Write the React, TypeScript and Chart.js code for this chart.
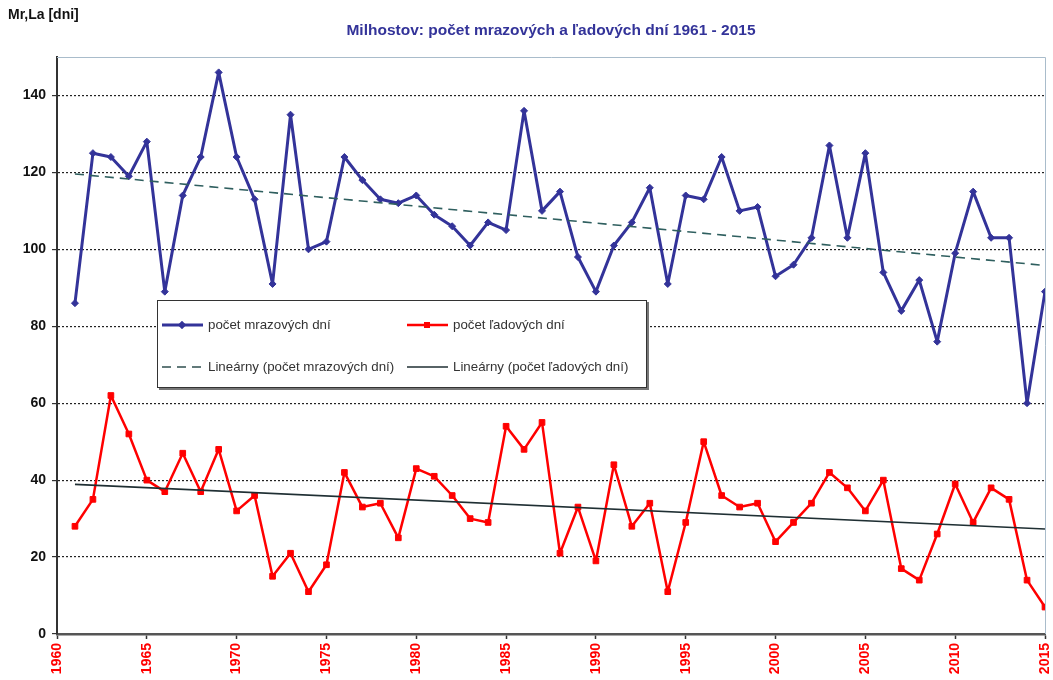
import React, { useEffect, useRef } from 'react';
import { Chart, registerables } from 'chart.js';

Chart.register(...registerables);

const years = [
  1961, 1962, 1963, 1964, 1965, 1966, 1967, 1968, 1969, 1970,
  1971, 1972, 1973, 1974, 1975, 1976, 1977, 1978, 1979, 1980,
  1981, 1982, 1983, 1984, 1985, 1986, 1987, 1988, 1989, 1990,
  1991, 1992, 1993, 1994, 1995, 1996, 1997, 1998, 1999, 2000,
  2001, 2002, 2003, 2004, 2005, 2006, 2007, 2008, 2009, 2010,
  2011, 2012, 2013, 2014, 2015,
];

const frostDays = [
  86, 125, 124, 119, 128, 89, 114, 124, 146, 124,
  113, 91, 135, 100, 102, 124, 118, 113, 112, 114,
  109, 106, 101, 107, 105, 136, 110, 115, 98, 89,
  101, 107, 116, 91, 114, 113, 124, 110, 111, 93,
  96, 103, 127, 103, 125, 94, 84, 92, 76, 99,
  115, 103, 103, 60, 89,
];

const iceDays = [
  28, 35, 62, 52, 40, 37, 47, 37, 48, 32,
  36, 15, 21, 11, 18, 42, 33, 34, 25, 43,
  41, 36, 30, 29, 54, 48, 55, 21, 33, 19,
  44, 28, 34, 11, 29, 50, 36, 33, 34, 24,
  29, 34, 42, 38, 32, 40, 17, 14, 26, 39,
  29, 38, 35, 14, 7,
];

const trendYears = [1961, 2015];
const frostTrend = [119.6, 95.8];
const iceTrend = [38.9, 27.3];

const yTickValues = [0, 20, 40, 60, 80, 100, 120, 140];
const xTickValues = [1960, 1965, 1970, 1975, 1980, 1985, 1990, 1995, 2000, 2005, 2010, 2015];

const titleText = 'Milhostov: počet mrazových a ľadových dní 1961 - 2015';
const yAxisLabel = 'Mr,La [dni]';
const legendLabels = [
  'počet mrazových dní',
  'počet ľadových dní',
  'Lineárny (počet mrazových dní)',
  'Lineárny (počet ľadových dní)',
];

const FONT = '"Liberation Sans", Arial, sans-serif';
const BLUE = '#333399';
const RED = '#ff0000';

const frameBorder = {
  id: 'frameBorder',
  afterDatasetsDraw(chart: any) {
    const { ctx, chartArea } = chart;
    ctx.save();
    ctx.strokeStyle = '#a9bccb';
    ctx.lineWidth = 1;
    ctx.beginPath();
    ctx.moveTo(chartArea.left, chartArea.top + 0.5);
    ctx.lineTo(chartArea.right + 0.5, chartArea.top + 0.5);
    ctx.lineTo(chartArea.right + 0.5, chartArea.bottom);
    ctx.stroke();
    ctx.restore();
  },
};

export default function App() {
  const canvasRef = useRef<HTMLCanvasElement>(null);

  useEffect(() => {
    document.body.style.margin = '0';
    const canvas = canvasRef.current;
    if (!canvas) return;
    const chart = new Chart(canvas, {
      type: 'line',
      data: {
        datasets: [
          {
            label: legendLabels[2],
            data: trendYears.map((x, i) => ({ x, y: frostTrend[i] })),
            borderColor: '#2f5f5f',
            borderWidth: 1.6,
            borderDash: [9, 6],
            pointRadius: 0,
            fill: false,
          },
          {
            label: legendLabels[3],
            data: trendYears.map((x, i) => ({ x, y: iceTrend[i] })),
            borderColor: '#1f2f33',
            borderWidth: 1.6,
            pointRadius: 0,
            fill: false,
          },
          {
            label: legendLabels[0],
            data: years.map((x, i) => ({ x, y: frostDays[i] })),
            borderColor: BLUE,
            backgroundColor: BLUE,
            borderWidth: 3,
            borderJoinStyle: 'round',
            pointStyle: 'rectRot',
            pointRadius: 3.5,
            pointBorderWidth: 1,
            tension: 0,
            fill: false,
          },
          {
            label: legendLabels[1],
            data: years.map((x, i) => ({ x, y: iceDays[i] })),
            borderColor: RED,
            backgroundColor: RED,
            borderWidth: 2.5,
            borderJoinStyle: 'round',
            pointStyle: 'rect',
            pointRadius: 4,
            pointBorderWidth: 1,
            tension: 0,
            fill: false,
          },
        ],
      },
      options: {
        animation: false,
        responsive: false,
        maintainAspectRatio: false,
        layout: { padding: { top: 57, right: 8, left: 0, bottom: 0 } },
        plugins: {
          legend: { display: false },
          title: { display: false },
          tooltip: { enabled: false },
        },
        scales: {
          x: {
            type: 'linear',
            min: 1960,
            max: 2015,
            afterBuildTicks: (scale: any) => {
              scale.ticks = xTickValues.map((v) => ({ value: v }));
            },
            afterFit: (scale: any) => {
              scale.height = 46;
              scale.paddingLeft = 0;
              scale.paddingRight = 0;
            },
            ticks: {
              autoSkip: false,
              minRotation: 90,
              maxRotation: 90,
              color: RED,
              padding: 4,
              font: { family: FONT, size: 14, weight: 'bold' },
              callback: (v: any) => String(v),
            },
            grid: {
              drawOnChartArea: false,
              drawTicks: true,
              tickLength: 5,
              tickColor: '#333',
              tickWidth: 1.5,
            },
            border: { color: '#555', width: 2.5 },
          },
          y: {
            min: 0,
            max: 150,
            afterBuildTicks: (scale: any) => {
              scale.ticks = yTickValues.map((v) => ({ value: v }));
            },
            afterFit: (scale: any) => {
              scale.width = 57;
              scale.paddingTop = 0;
              scale.paddingBottom = 0;
            },
            ticks: {
              color: '#111',
              padding: 6,
              font: { family: FONT, size: 14, weight: 'bold' },
              callback: (v: any) => String(v),
            },
            grid: {
              color: '#222',
              lineWidth: 1.2,
              drawTicks: true,
              tickLength: 5,
              tickColor: '#333',
              tickWidth: 1.2,
            },
            border: { color: '#333', width: 2, dash: [2, 2] },
          },
        },
      },
      plugins: [frameBorder],
    } as any);
    return () => chart.destroy();
  }, []);

  const sampleLine = (kind: 'blue' | 'red' | 'dash' | 'solid') => (
    <svg width={41} height={8} style={{ display: 'block' }}>
      {kind === 'blue' && (
        <>
          <line x1={0} y1={4} x2={41} y2={4} stroke={BLUE} strokeWidth={3} />
          <rect x={17} y={1} width={6} height={6} fill={BLUE} transform="rotate(45 20 4)" />
        </>
      )}
      {kind === 'red' && (
        <>
          <line x1={0} y1={4} x2={41} y2={4} stroke={RED} strokeWidth={2.5} />
          <rect x={17} y={1} width={6} height={6} fill={RED} />
        </>
      )}
      {kind === 'dash' && (
        <line x1={0} y1={4} x2={41} y2={4} stroke="#2f4f4f" strokeWidth={1.6} strokeDasharray="9 6" />
      )}
      {kind === 'solid' && <line x1={0} y1={4} x2={41} y2={4} stroke="#1f2f33" strokeWidth={1.6} />}
    </svg>
  );

  const legendItem = (left: number, top: number, kind: 'blue' | 'red' | 'dash' | 'solid', text: string) => (
    <div
      style={{
        position: 'absolute',
        left,
        top,
        display: 'flex',
        alignItems: 'center',
        gap: 5,
        fontFamily: FONT,
        fontSize: 13.3,
        color: '#333',
        whiteSpace: 'nowrap',
        lineHeight: '15px',
      }}
    >
      {sampleLine(kind)}
      <span>{text}</span>
    </div>
  );

  return (
    <div style={{ position: 'relative', width: 1053, height: 680, background: '#fff', overflow: 'hidden' }}>
      <canvas ref={canvasRef} width={1053} height={680} style={{ display: 'block', width: 1053, height: 680 }} />
      <div
        style={{
          position: 'absolute',
          left: 8,
          top: 6,
          fontFamily: FONT,
          fontWeight: 'bold',
          fontSize: 14,
          color: '#111',
        }}
      >
        {yAxisLabel}
      </div>
      <div
        style={{
          position: 'absolute',
          left: 251,
          width: 600,
          top: 21,
          textAlign: 'center',
          fontFamily: FONT,
          fontWeight: 'bold',
          fontSize: 15.5,
          color: BLUE,
        }}
      >
        {titleText}
      </div>
      <div
        style={{
          position: 'absolute',
          left: 157,
          top: 300,
          width: 488,
          height: 86,
          border: '1.5px solid #333',
          boxShadow: '2px 2px 0 #777',
          background: '#fff',
        }}
      >
        {legendItem(4, 16, 'blue', legendLabels[0])}
        {legendItem(249, 16, 'red', legendLabels[1])}
        {legendItem(4, 58, 'dash', legendLabels[2])}
        {legendItem(249, 58, 'solid', legendLabels[3])}
      </div>
    </div>
  );
}
